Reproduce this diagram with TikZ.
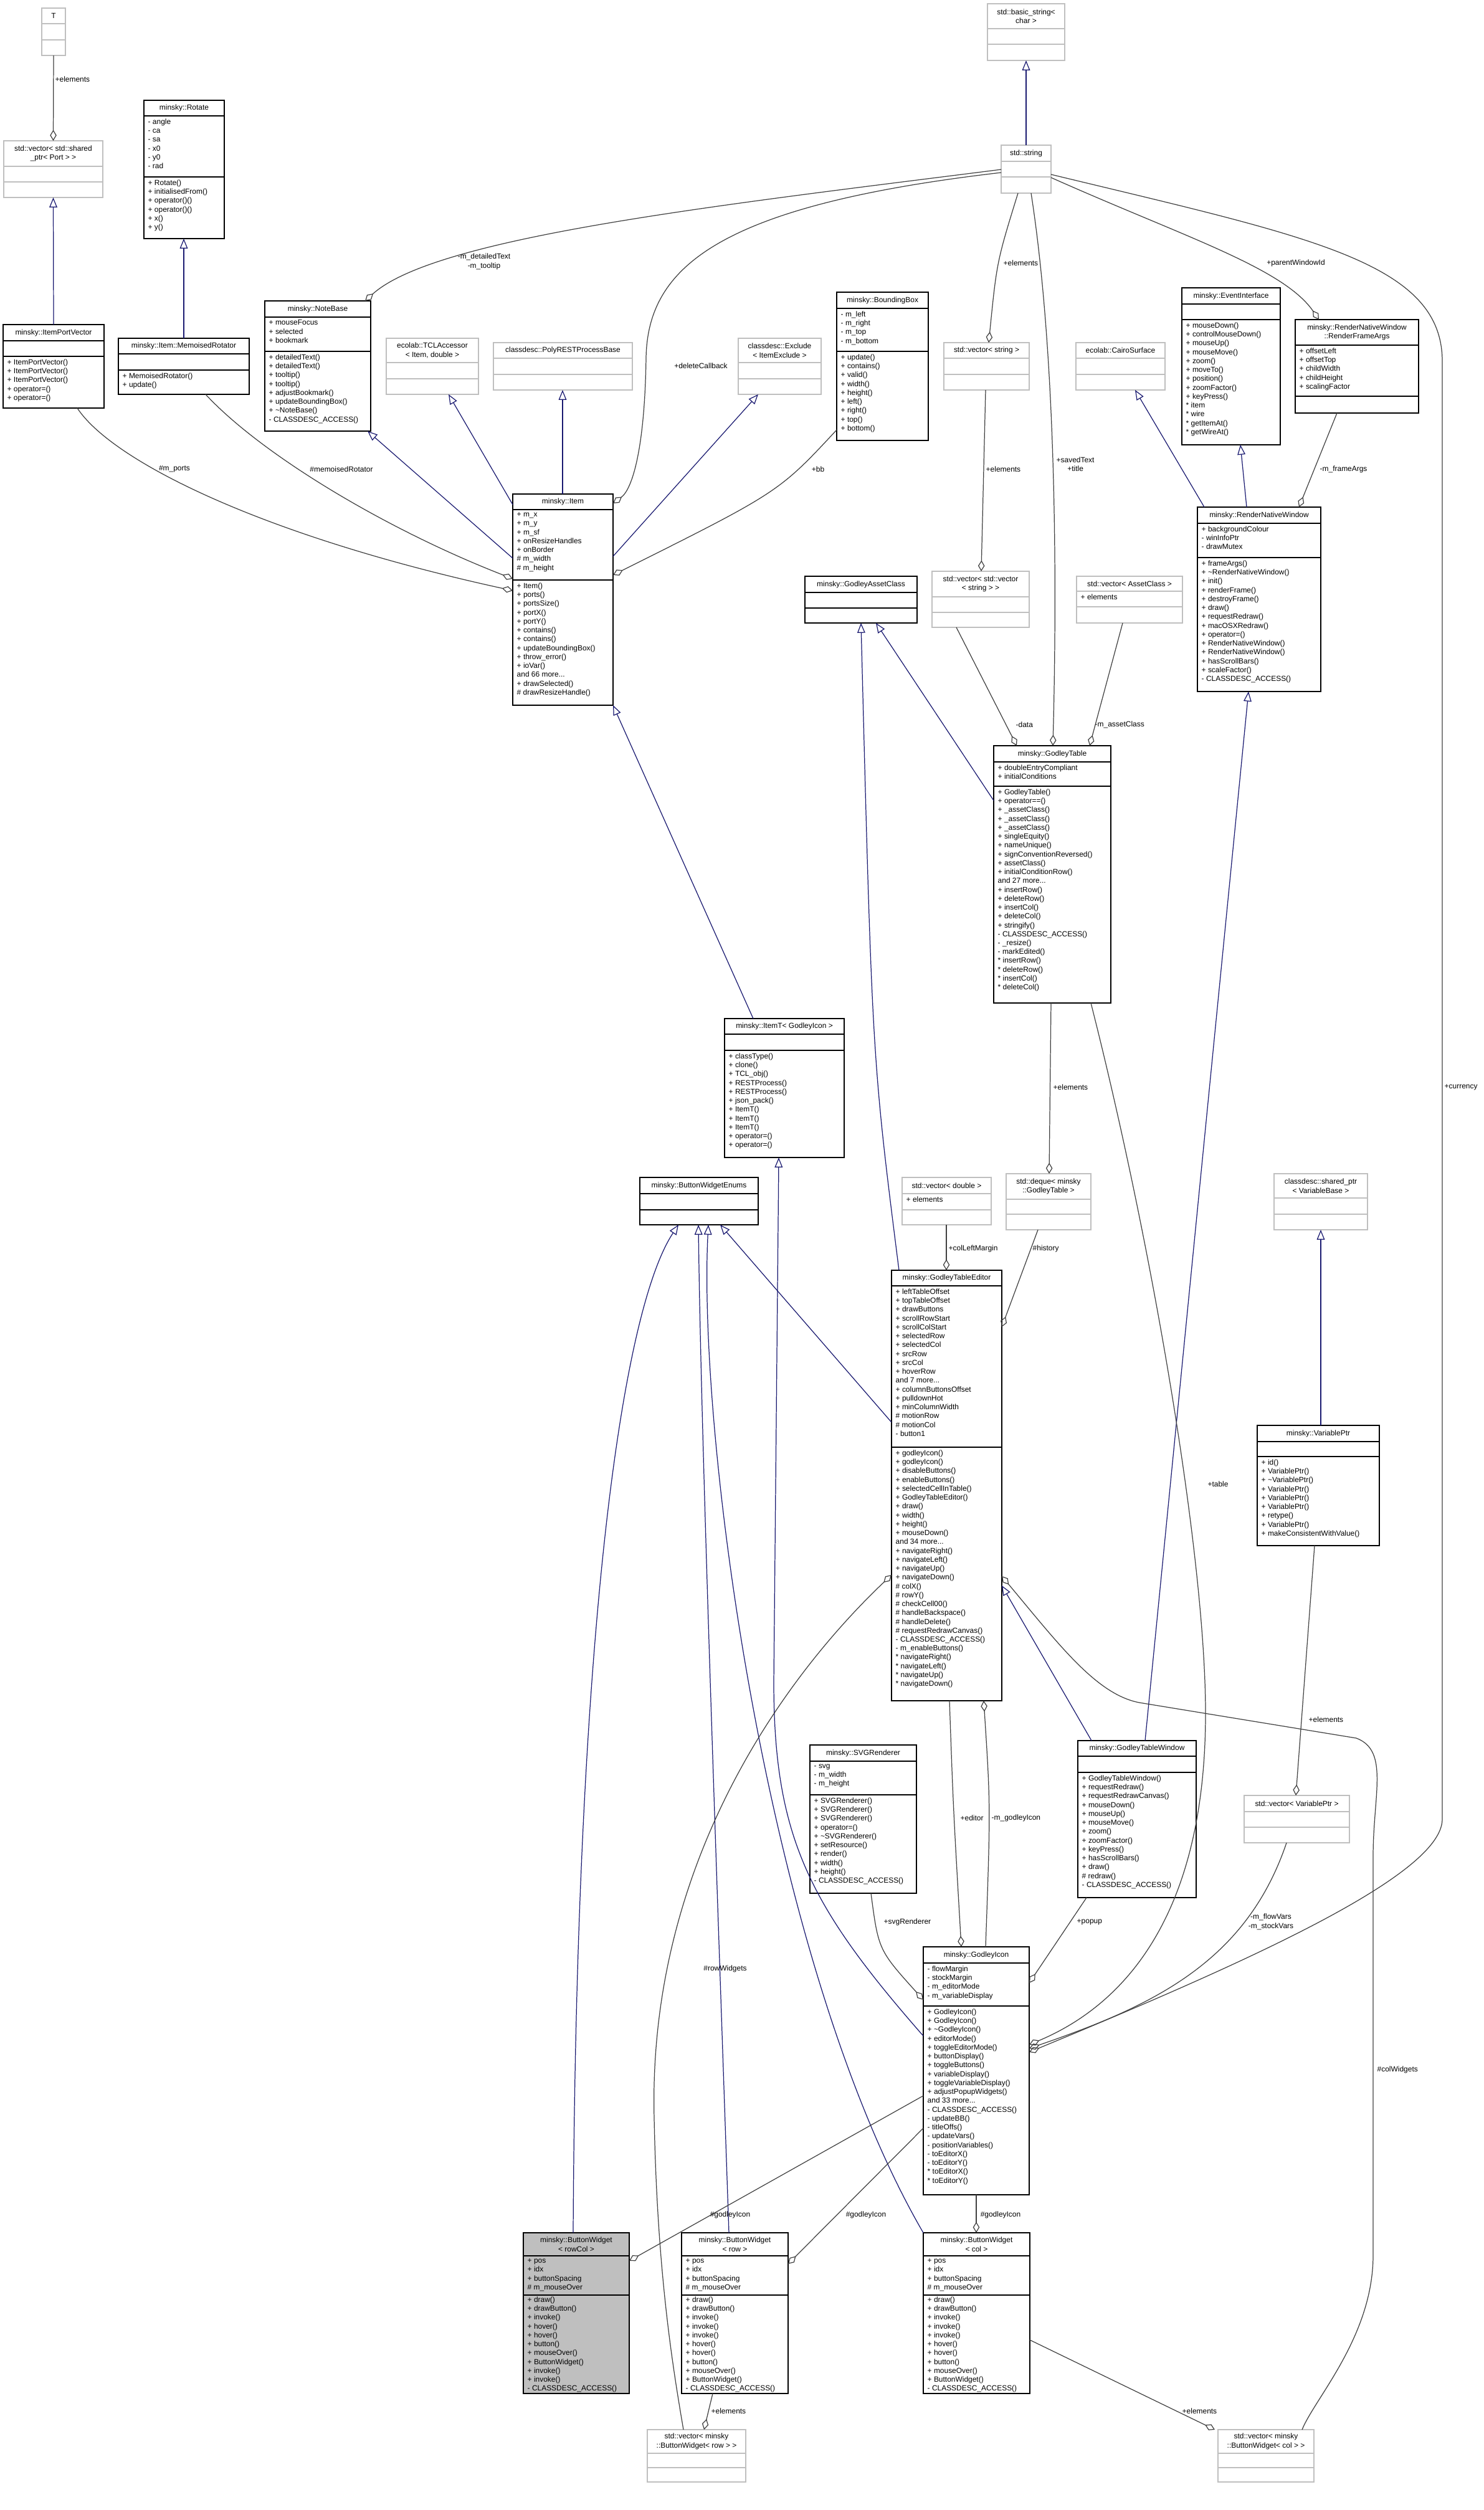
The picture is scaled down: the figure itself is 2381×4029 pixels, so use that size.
\documentclass[tikz,border=0pt]{standalone}
\usepackage{fontspec}
\setmainfont{Liberation Sans}
\usetikzlibrary{arrows.meta}
\definecolor{dgrey}{HTML}{404040}
\definecolor{lgrey}{HTML}{BFBFBF}
\definecolor{navy}{HTML}{191970}
\tikzset{
 bk/.style={draw=black,line width=0.45pt,fill=white,inner sep=0,outer sep=0},
 gr/.style={draw=lgrey,line width=0.45pt,fill=white,inner sep=0,outer sep=0},
 hl/.style={draw=black,line width=0.45pt,fill=lgrey,inner sep=0,outer sep=0},
 ttl/.style={font=\fontsize{3.4}{4.1}\selectfont,inner sep=0,align=center},
 mem/.style={font=\fontsize{3.4}{4.05}\selectfont,inner sep=0,align=left},
 lab/.style={font=\fontsize{3.4}{4.1}\selectfont,inner sep=0,align=center},
 agg/.style={draw=dgrey,line width=0.35pt,-{Diamond[open,length=5pt,width=3pt]}},
 aggs/.style={draw=dgrey,line width=0.35pt,{Diamond[open,length=5pt,width=3pt]}-},
 inh/.style={draw=navy,line width=0.35pt,-{Triangle[open,length=4.5pt,width=3.6pt]}},
}
\newcommand\cls[9]{%
 \node[#8,minimum width={(#4-#2)*0.01cm},minimum height={(#5-#3)*0.01cm},anchor=north west] (#1) at (#2,#3) {};
 \draw[#8,fill=none] (#2,#6) -- (#4,#6) (#2,#7) -- (#4,#7);
 \node[ttl] (#1t) at ({(#2+#4)/2},{(#3+#6)/2}) {#9};}
\newcommand\attrs[4]{\node[mem,anchor=north west] (#1a) at ({#2+6},{#3+4}) {#4};}
\newcommand\meths[4]{\node[mem,anchor=north west] (#1m) at ({#2+6},{#3+4}) {#4};}
\begin{document}
\begin{tikzpicture}[x=0.01cm,y=-0.01cm]
\useasboundingbox (0,0) rectangle (2381,4029);
% classes
\cls{tT}{67}{13}{105}{89}{38}{64}{gr}{T}
\cls{vport}{6}{226}{165}{317}{267}{292}{gr}{std::vector< std::shared\\\_ptr< Port > >}
\cls{rot}{231}{161}{360}{383}{186}{284}{bk}{minsky::Rotate}
\attrs{rot}{231}{186}{- angle\\- ca\\- sa\\- x0\\- y0\\- rad}
\meths{rot}{231}{284}{+ Rotate()\\+ initialisedFrom()\\+ operator()()\\+ operator()()\\+ x()\\+ y()}
\cls{ipv}{5}{521}{167}{655}{547}{572}{bk}{minsky::ItemPortVector}
\meths{ipv}{5}{572}{+ ItemPortVector()\\+ ItemPortVector()\\+ ItemPortVector()\\+ operator=()\\+ operator=()}
\cls{memo}{190}{543}{400}{633}{568}{594}{bk}{minsky::Item::MemoisedRotator}
\meths{memo}{190}{594}{+ MemoisedRotator()\\+ update()}
\cls{note}{425}{483}{595}{692}{509}{564}{bk}{minsky::NoteBase}
\attrs{note}{425}{509}{+ mouseFocus\\+ selected\\+ bookmark}
\meths{note}{425}{564}{+ detailedText()\\+ detailedText()\\+ tooltip()\\+ tooltip()\\+ adjustBookmark()\\+ updateBoundingBox()\\+ \textasciitilde NoteBase()\\- CLASSDESC\_ACCESS()}
\cls{tcl}{620}{543}{768}{633}{582}{608}{gr}{ecolab::TCLAccessor\\< Item, double >}
\cls{poly}{792}{550}{1015}{626}{575}{601}{gr}{classdesc::PolyRESTProcessBase}
\cls{excl}{1185}{543}{1318}{633}{582}{608}{gr}{classdesc::Exclude\\< ItemExclude >}
\cls{item}{823}{793}{984}{1132}{818}{931}{bk}{minsky::Item}
\attrs{item}{823}{818}{+ m\_x\\+ m\_y\\+ m\_sf\\+ onResizeHandles\\+ onBorder\\\# m\_width\\\# m\_height}
\meths{item}{823}{931}{+ Item()\\+ ports()\\+ portsSize()\\+ portX()\\+ portY()\\+ contains()\\+ contains()\\+ updateBoundingBox()\\+ throw\_error()\\+ ioVar()\\and 66 more...\\+ drawSelected()\\\# drawResizeHandle()}
\cls{bstr}{1585}{6}{1709}{97}{46}{71}{gr}{std::basic\_string<\\char >}
\cls{str}{1607}{233}{1687}{310}{259}{284}{gr}{std::string}
\cls{bbox}{1343}{469}{1490}{707}{495}{564}{bk}{minsky::BoundingBox}
\attrs{bbox}{1343}{495}{- m\_left\\- m\_right\\- m\_top\\- m\_bottom}
\meths{bbox}{1343}{564}{+ update()\\+ contains()\\+ valid()\\+ width()\\+ height()\\+ left()\\+ right()\\+ top()\\+ bottom()}
\cls{vstr}{1515}{550}{1652}{626}{575}{601}{gr}{std::vector< string >}
\cls{cairo}{1727}{550}{1870}{626}{575}{601}{gr}{ecolab::CairoSurface}
\cls{evt}{1897}{462}{2055}{714}{488}{513}{bk}{minsky::EventInterface}
\meths{evt}{1897}{513}{+ mouseDown()\\+ controlMouseDown()\\+ mouseUp()\\+ mouseMove()\\+ zoom()\\+ moveTo()\\+ position()\\+ zoomFactor()\\+ keyPress()\\* item\\* wire\\* getItemAt()\\* getWireAt()}
\cls{rfa}{2079}{513}{2277}{663}{554}{636}{bk}{minsky::RenderNativeWindow\\::RenderFrameArgs}
\attrs{rfa}{2079}{554}{+ offsetLeft\\+ offsetTop\\+ childWidth\\+ childHeight\\+ scalingFactor}
\cls{rnw}{1922}{814}{2120}{1110}{840}{895}{bk}{minsky::RenderNativeWindow}
\attrs{rnw}{1922}{840}{+ backgroundColour\\- winInfoPtr\\- drawMutex}
\meths{rnw}{1922}{895}{+ frameArgs()\\+ \textasciitilde RenderNativeWindow()\\+ init()\\+ renderFrame()\\+ destroyFrame()\\+ draw()\\+ requestRedraw()\\+ macOSXRedraw()\\+ operator=()\\+ RenderNativeWindow()\\+ RenderNativeWindow()\\+ hasScrollBars()\\+ scaleFactor()\\- CLASSDESC\_ACCESS()}
\cls{gac}{1292}{925}{1472}{1000}{951}{976}{bk}{minsky::GodleyAssetClass}
\cls{vvstr}{1496}{917}{1652}{1007}{958}{983}{gr}{std::vector< std::vector\\< string > >}
\cls{vac}{1728}{925}{1898}{1000}{949}{974}{gr}{std::vector< AssetClass >}
\attrs{vac}{1728}{949}{+ elements}
\cls{gtab}{1595}{1197}{1783}{1610}{1223}{1262}{bk}{minsky::GodleyTable}
\attrs{gtab}{1595}{1223}{+ doubleEntryCompliant\\+ initialConditions}
\meths{gtab}{1595}{1262}{+ GodleyTable()\\+ operator==()\\+ \_assetClass()\\+ \_assetClass()\\+ \_assetClass()\\+ singleEquity()\\+ nameUnique()\\+ signConventionReversed()\\+ assetClass()\\+ initialConditionRow()\\and 27 more...\\+ insertRow()\\+ deleteRow()\\+ insertCol()\\+ deleteCol()\\+ stringify()\\- CLASSDESC\_ACCESS()\\- \_resize()\\- markEdited()\\* insertRow()\\* deleteRow()\\* insertCol()\\* deleteCol()}
\cls{deque}{1615}{1884}{1751}{1974}{1925}{1949}{gr}{std::deque< minsky\\::GodleyTable >}
\cls{sptr}{2045}{1884}{2195}{1974}{1923}{1949}{gr}{classdesc::shared\_ptr\\< VariableBase >}
\cls{vptr}{2018}{2288}{2214}{2481}{2314}{2338}{bk}{minsky::VariablePtr}
\meths{vptr}{2018}{2338}{+ id()\\+ VariablePtr()\\+ \textasciitilde VariablePtr()\\+ VariablePtr()\\+ VariablePtr()\\+ VariablePtr()\\+ retype()\\+ VariablePtr()\\+ makeConsistentWithValue()}
\cls{itemt}{1163}{1635}{1355}{1858}{1660}{1686}{bk}{minsky::ItemT< GodleyIcon >}
\meths{itemt}{1163}{1686}{+ classType()\\+ clone()\\+ TCL\_obj()\\+ RESTProcess()\\+ RESTProcess()\\+ json\_pack()\\+ ItemT()\\+ ItemT()\\+ ItemT()\\+ operator=()\\+ operator=()}
\cls{bwe}{1027}{1890}{1217}{1966}{1916}{1942}{bk}{minsky::ButtonWidgetEnums}
\cls{vdbl}{1448}{1890}{1591}{1966}{1916}{1942}{gr}{std::vector< double >}
\attrs{vdbl}{1448}{1916}{+ elements}
\cls{gte}{1431}{2039}{1608}{2730}{2064}{2323}{bk}{minsky::GodleyTableEditor}
\attrs{gte}{1431}{2064}{+ leftTableOffset\\+ topTableOffset\\+ drawButtons\\+ scrollRowStart\\+ scrollColStart\\+ selectedRow\\+ selectedCol\\+ srcRow\\+ srcCol\\+ hoverRow\\and 7 more...\\+ columnButtonsOffset\\+ pulldownHot\\+ minColumnWidth\\\# motionRow\\\# motionCol\\- button1}
\meths{gte}{1431}{2323}{+ godleyIcon()\\+ godleyIcon()\\+ disableButtons()\\+ enableButtons()\\+ selectedCellInTable()\\+ GodleyTableEditor()\\+ draw()\\+ width()\\+ height()\\+ mouseDown()\\and 34 more...\\+ navigateRight()\\+ navigateLeft()\\+ navigateUp()\\+ navigateDown()\\\# colX()\\\# rowY()\\\# checkCell00()\\\# handleBackspace()\\\# handleDelete()\\\# requestRedrawCanvas()\\- CLASSDESC\_ACCESS()\\- m\_enableButtons()\\* navigateRight()\\* navigateLeft()\\* navigateUp()\\* navigateDown()}
\cls{gtw}{1730}{2794}{1920}{3046}{2819}{2845}{bk}{minsky::GodleyTableWindow}
\meths{gtw}{1730}{2845}{+ GodleyTableWindow()\\+ requestRedraw()\\+ requestRedrawCanvas()\\+ mouseDown()\\+ mouseUp()\\+ mouseMove()\\+ zoom()\\+ zoomFactor()\\+ keyPress()\\+ hasScrollBars()\\+ draw()\\\# redraw()\\- CLASSDESC\_ACCESS()}
\cls{svg}{1300}{2801}{1471}{3039}{2827}{2881}{bk}{minsky::SVGRenderer}
\attrs{svg}{1300}{2827}{- svg\\- m\_width\\- m\_height}
\meths{svg}{1300}{2881}{+ SVGRenderer()\\+ SVGRenderer()\\+ SVGRenderer()\\+ operator=()\\+ \textasciitilde SVGRenderer()\\+ setResource()\\+ render()\\+ width()\\+ height()\\- CLASSDESC\_ACCESS()}
\cls{gicon}{1482}{3125}{1652}{3523}{3151}{3220}{bk}{minsky::GodleyIcon}
\attrs{gicon}{1482}{3151}{- flowMargin\\- stockMargin\\- m\_editorMode\\- m\_variableDisplay}
\meths{gicon}{1482}{3220}{+ GodleyIcon()\\+ GodleyIcon()\\+ \textasciitilde GodleyIcon()\\+ editorMode()\\+ toggleEditorMode()\\+ buttonDisplay()\\+ toggleButtons()\\+ variableDisplay()\\+ toggleVariableDisplay()\\+ adjustPopupWidgets()\\and 33 more...\\- CLASSDESC\_ACCESS()\\- updateBB()\\- titleOffs()\\- updateVars()\\- positionVariables()\\- toEditorX()\\- toEditorY()\\* toEditorX()\\* toEditorY()}
\cls{vvp}{1997}{2882}{2166}{2958}{2908}{2933}{gr}{std::vector< VariablePtr >}
\cls{bwrc}{840}{3584}{1010}{3842}{3621}{3684}{hl}{minsky::ButtonWidget\\< rowCol >}
\attrs{bwrc}{840}{3621}{+ pos\\+ idx\\+ buttonSpacing\\\# m\_mouseOver}
\meths{bwrc}{840}{3682}{+ draw()\\+ drawButton()\\+ invoke()\\+ hover()\\+ hover()\\+ button()\\+ mouseOver()\\+ ButtonWidget()\\+ invoke()\\+ invoke()\\- CLASSDESC\_ACCESS()}
\cls{bwr}{1094}{3584}{1265}{3842}{3621}{3684}{bk}{minsky::ButtonWidget\\< row >}
\attrs{bwr}{1094}{3621}{+ pos\\+ idx\\+ buttonSpacing\\\# m\_mouseOver}
\meths{bwr}{1094}{3682}{+ draw()\\+ drawButton()\\+ invoke()\\+ invoke()\\+ invoke()\\+ hover()\\+ hover()\\+ button()\\+ mouseOver()\\+ ButtonWidget()\\- CLASSDESC\_ACCESS()}
\cls{bwc}{1482}{3584}{1653}{3842}{3621}{3684}{bk}{minsky::ButtonWidget\\< col >}
\attrs{bwc}{1482}{3621}{+ pos\\+ idx\\+ buttonSpacing\\\# m\_mouseOver}
\meths{bwc}{1482}{3682}{+ draw()\\+ drawButton()\\+ invoke()\\+ invoke()\\+ invoke()\\+ hover()\\+ hover()\\+ button()\\+ mouseOver()\\+ ButtonWidget()\\- CLASSDESC\_ACCESS()}
\cls{vbwr}{1039}{3900}{1197}{3984}{3938}{3961}{gr}{std::vector< minsky\\::ButtonWidget< row > >}
\cls{vbwc}{1955}{3900}{2109}{3984}{3938}{3961}{gr}{std::vector< minsky\\::ButtonWidget< col > >}
% connectors
\draw[inh] (str.north) -- (bstr.south -| str.north);
\draw[agg] (tT.south) -- (vport.north);
\node[lab,anchor=west] (l1) at (88,127) {+elements};
\draw[inh] (ipv.north) -- (vport.south);
\draw[inh] (memo.north -| 295,0) -- (rot.south -| 295,0);
\draw[agg] (ipv.south -| 124,0) .. controls (180,740) and (420,860) .. (item.west |- 0,948);
\node[lab] (l2) at (280,753) {\#m\_ports};
\draw[agg] (memo.south -| 330,0) .. controls (420,730) and (620,850) .. (item.west |- 0,929);
\node[lab] (l3) at (548,753) {\#memoisedRotator};
\draw[inh] (item.west |- 0,896) -- (note.south -| 590,0);
\draw[inh] (item.west |- 0,810) -- (tcl.south -| 720,0);
\draw[inh] (item.north -| 903,0) -- (poly.south -| 903,0);
\draw[inh] (item.east |- 0,893) -- (excl.south -| 1217,0);
\draw[agg] (bbox.west |- 0,690) .. controls (1250,790) .. (item.east |- 0,923);
\node[lab] (l4) at (1313,753) {+bb};
\draw[agg] (str.west |- 0,272) .. controls (1150,330) and (700,380) .. (note.north -| 586,0);
\node[lab] (l5) at (777,420) {-m\_detailedText\\-m\_tooltip};
\draw[agg] (str.west |- 0,277) .. controls (1150,330) and (1040,430) .. (1037,574) .. controls (1035,720) and (1015,785) .. (item.east |- 0,808);
\node[lab] (l6) at (1125,587) {+deleteCallback};
\draw[agg] (str.south -| 1634,0) .. controls (1600,420) .. (vstr.north -| 1587,0);
\node[lab,anchor=west] (l7) at (1610,422) {+elements};
\draw[agg] (vstr.south -| 1582,0) -- (vvstr.north -| 1575,0);
\node[lab,anchor=west] (l8) at (1582,753) {+elements};
\draw[agg] (str.south -| 1655,0) .. controls (1700,600) and (1695,1000) .. (gtab.north -| 1690,0);
\node[lab,anchor=west] (l9) at (1695,745) {+savedText\\+title};
\draw[agg] (str.east |- 0,285) .. controls (1900,380) and (2060,430) .. (rfa.north -| 2117,0);
\node[lab] (l10) at (2080,422) {+parentWindowId};
\draw[agg] (str.east |- 0,280) .. controls (2100,380) and (2315,420) .. (2315,580) -- (2315,2920) .. controls (2315,3010) and (2000,3150) .. (gicon.east |- 0,3294);
\node[lab,anchor=west] (l11) at (2318,1745) {+currency};
\draw[inh] (gtab.west |- 0,1285) -- (gac.south -| 1406,0);
\draw[inh] (gte.north -| 1443,0) .. controls (1400,1700) .. (gac.south -| 1382,0);
\draw[agg] (vvstr.south -| 1535,0) -- (gtab.north -| 1632,0);
\node[lab,anchor=west] (l12) at (1630,1163) {-data};
\draw[agg] (vac.south -| 1802,0) -- (gtab.north -| 1749,0);
\node[lab,anchor=west] (l13) at (1757,1163) {-m\_assetClass};
\draw[inh] (rnw.north -| 1933,0) -- (cairo.south -| 1822,0);
\draw[inh] (rnw.north -| 2001,0) -- (evt.south -| 1991,0);
\draw[agg] (rfa.south -| 2146,0) -- (rnw.north -| 2085,0);
\node[lab,anchor=west] (l14) at (2118,753) {-m\_frameArgs};
\draw[inh] (gtw.north -| 1838,0) -- (rnw.south -| 2004,0);
\draw[agg] (gtab.south -| 1687,0) -- (deque.north -| 1684,0);
\node[lab,anchor=west] (l15) at (1690,1745) {+elements};
\draw[agg] (gtab.south -| 1751,0) .. controls (1850,2000) and (1935,2500) .. (1935,2750) .. controls (1935,3080) and (1800,3220) .. (gicon.east |- 0,3282);
\node[lab] (l16) at (1955,2382) {+table};
\draw[agg] (vdbl.south -| 1519,0) -- (gte.north -| 1519,0);
\node[lab,anchor=west] (l17) at (1522,2004) {+colLeftMargin};
\draw[agg] (deque.south -| 1666,0) -- (gte.east |- 0,2130);
\node[lab,anchor=west] (l18) at (1657,2004) {\#history};
\draw[inh] (gte.west |- 0,2283) -- (bwe.south -| 1156,0);
\draw[inh] (gicon.west |- 0,3268) .. controls (1300,3060) and (1242,2950) .. (1242,2700) -- (itemt.south -| 1250,0);
\draw[inh] (bwr.north -| 1170,0) .. controls (1150,3000) and (1125,2300) .. (bwe.south -| 1121,0);
\draw[inh] (bwc.north west) .. controls (1230,3150) and (1120,2300) .. (bwe.south -| 1137,0);
\draw[inh] (bwrc.north -| 920,0) .. controls (925,2600) and (1000,2100) .. (bwe.south -| 1089,0);
\draw[inh] (itemt.north -| 1209,0) -- (item.south east);
\draw[agg] (gte.south -| 1524,0) .. controls (1530,2900) .. (gicon.north -| 1543,0);
\node[lab,anchor=west] (l19) at (1541,2918) {+editor};
\draw[agg] (gicon.north -| 1582,0) .. controls (1590,2900) .. (gte.south -| 1579,0);
\node[lab,anchor=west] (l20) at (1591,2918) {-m\_godleyIcon};
\draw[agg] (svg.south -| 1398,0) .. controls (1410,3130) .. (gicon.west |- 0,3210);
\node[lab,anchor=west] (l21) at (1418,3085) {+svgRenderer};
\draw[agg] (gtw.south -| 1744,0) -- (gicon.east |- 0,3183);
\node[lab,anchor=west] (l22) at (1728,3085) {+popup};
\draw[agg] (vvp.south -| 2065,0) .. controls (2000,3150) and (1850,3220) .. (gicon.east |- 0,3288);
\node[lab] (l23) at (2040,3085) {-m\_flowVars\\-m\_stockVars};
\draw[agg] (vptr.south -| 2110,0) -- (vvp.north -| 2080,0);
\node[lab,anchor=west] (l24) at (2100,2760) {+elements};
\draw[inh] (vptr.north -| 2120,0) -- (sptr.south -| 2120,0);
\draw[inh] (gtw.north -| 1752,0) -- (gte.east |- 0,2545);
\draw[agg] (gicon.west |- 0,3364) -- (bwrc.east |- 0,3629);
\node[lab] (l25) at (1172,3555) {\#godleyIcon};
\draw[agg] (gicon.west |- 0,3416) -- (bwr.east |- 0,3634);
\node[lab] (l26) at (1390,3555) {\#godleyIcon};
\draw[agg] (gicon.south -| 1567,0) -- (bwc.north -| 1567,0);
\node[lab] (l27) at (1606,3555) {\#godleyIcon};
\draw[agg] (bwr.south -| 1144,0) -- (vbwr.north -| 1130,0);
\node[lab,anchor=west] (l28) at (1141,3870) {+elements};
\draw[agg] (bwc.east |- 0,3756) -- (vbwc.north -| 1950,0);
\node[lab,anchor=west] (l29) at (1897,3870) {+elements};
\draw[aggs] (gte.west |- 0,2528) .. controls (1250,2700) and (1040,3000) .. (1050,3400) .. controls (1055,3650) and (1080,3800) .. (vbwr.north -| 1097,0);
\node[lab] (l30) at (1164,3160) {\#rowWidgets};
\draw[aggs] (gte.east |- 0,2530) .. controls (1700,2640) and (1760,2720) .. (1829,2733) -- (2177,2790) .. controls (2230,2810) and (2204,2880) .. (2204,2980) -- (2204,3620) .. controls (2204,3750) and (2110,3850) .. (vbwc.north -| 2090,0);
\node[lab,anchor=west] (l31) at (2210,3322) {\#colWidgets};
\end{tikzpicture}
\end{document}
